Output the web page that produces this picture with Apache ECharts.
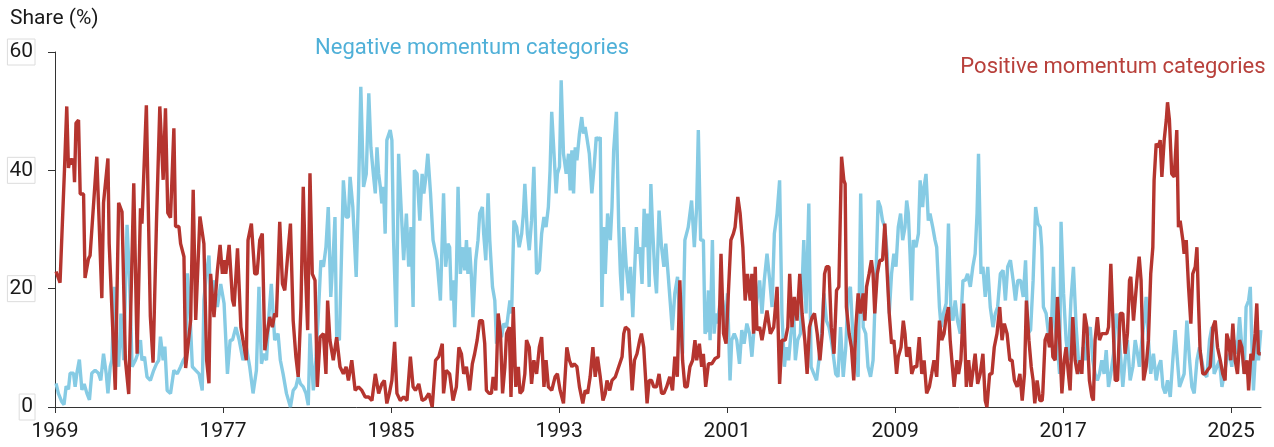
<!DOCTYPE html>
<html>
<head>
<meta charset="utf-8">
<script src="https://cdn.jsdelivr.net/npm/echarts@6/dist/echarts.min.js"></script>
<style>
html,body{margin:0;padding:0;background:#fff;}
#chart{width:1274px;height:447px;}
</style>
</head>
<body>
<div id="chart"></div>
<script>
// Tick years shown on the x axis
const xTickYears = [1969, 1977, 1985, 1993, 2001, 2009, 2017, 2025];
const yTicks = [0, 20, 40, 60];
const yAxisTitle = 'Share (%)';
const negLabel = 'Negative momentum categories';
const posLabel = 'Positive momentum categories';

// Share of negative momentum categories, [year, %]
const negativeShare = [
[1969.05,4],[1969.16,2.3],[1969.32,0.9],[1969.43,0.4],[1969.53,3.5],[1969.64,3],[1969.72,5.7],[1969.88,5.7],[1969.96,3.4],[1970.04,5.7],[1970.16,8],[1970.28,2.9],[1970.39,3.9],[1970.52,2.3],[1970.64,1.2],[1970.75,5.7],[1970.91,6.2],[1971.07,5.7],[1971.18,4.5],[1971.31,9],[1971.44,5.6],[1971.52,2.3],[1971.63,6.8],[1971.71,7.9],[1971.82,20.3],[1971.92,11.3],[1972.03,6.8],[1972.14,15.8],[1972.27,7.9],[1972.43,30.8],[1972.55,21.5],[1972.67,6.8],[1972.83,7.9],[1972.94,9],[1973.07,11.3],[1973.14,7.9],[1973.26,8.5],[1973.38,5.1],[1973.54,4.5],[1973.7,6.2],[1973.83,7.3],[1973.94,7.9],[1974.02,11.9],[1974.15,7.9],[1974.23,10.2],[1974.34,2.8],[1974.5,2.3],[1974.66,6.2],[1974.82,5.6],[1974.98,6.8],[1975.11,7.9],[1975.22,8.5],[1975.3,22.6],[1975.41,17],[1975.54,6.8],[1975.7,6.2],[1975.86,5.6],[1976.01,2.8],[1976.09,18.1],[1976.21,22.5],[1976.33,25.6],[1976.41,18],[1976.57,21.4],[1976.73,16.9],[1976.89,20.8],[1977.05,17.5],[1977.21,5.6],[1977.34,11.3],[1977.45,11.3],[1977.61,13.5],[1977.77,11.3],[1977.85,11.3],
[1977.95,7.9],[1978.11,10.1],[1978.27,6.8],[1978.43,2.3],[1978.59,6.2],[1978.71,20.3],[1978.83,7.3],[1978.94,9],[1979.07,7.9],[1979.19,15.8],[1979.3,20.8],[1979.46,11.3],[1979.62,12.4],[1979.73,7.9],[1979.86,5.6],[1980.02,2.3],[1980.21,0],[1980.34,2.8],[1980.47,3.4],[1980.58,5.1],[1980.69,3.9],[1980.82,3.4],[1980.95,2.3],[1981.06,0.3],[1981.14,12.4],[1981.3,2.8],[1981.42,7.9],[1981.54,15.8],[1981.66,24.8],[1981.78,23.7],[1981.9,27],[1982.01,33.8],[1982.13,18.6],[1982.25,25.9],[1982.33,32.1],[1982.41,11.8],[1982.54,11.3],[1982.65,27],[1982.73,38.3],[1982.86,32.1],[1982.97,32.1],[1983.05,38.9],[1983.18,33.8],[1983.34,22],[1983.45,36.1],[1983.56,54.1],[1983.69,37.2],[1983.82,39.4],[1983.94,53],[1984.04,43.9],[1984.17,38.9],[1984.25,36.1],[1984.33,43.9],[1984.41,39.4],[1984.49,37.2],[1984.56,34.4],[1984.64,37.2],[1984.72,29.3],[1984.8,45.1],[1984.96,46.8],[1985.04,45.1],[1985.12,28.2],[1985.25,13.5],[1985.36,42.8],[1985.47,34.4],[1985.6,24.8],[1985.73,32.7],[1985.84,23.7],[1985.95,30.4],[1986.05,16.9],[1986.11,40],[1986.24,39.4],[1986.37,31.5],[1986.48,39.4],[1986.56,36.1],[1986.64,38.3],[1986.75,42.8],[1986.88,36.1],[1987.0,28.2],[1987.19,24.8],[1987.35,18],
[1987.5,36.1],[1987.6,23.7],[1987.71,27.6],[1987.79,27],[1987.87,18],[1987.95,21.4],[1988.03,13.5],[1988.11,22.5],[1988.19,37.2],[1988.3,22.5],[1988.43,27],[1988.51,23.1],[1988.59,28.2],[1988.66,22.5],[1988.74,27],[1988.82,22.5],[1988.9,15.2],[1989.03,24.8],[1989.14,28.2],[1989.22,32.7],[1989.35,33.8],[1989.41,29.3],[1989.51,24.8],[1989.62,36.1],[1989.7,28.2],[1989.83,20.3],[1989.94,18],[1990.02,10.7],[1990.15,14.6],[1990.26,11.8],[1990.37,14.1],[1990.5,13.5],[1990.66,18],[1990.74,15.8],[1990.85,31.5],[1990.98,30.4],[1991.1,27],[1991.22,29.3],[1991.3,32.7],[1991.37,37.7],[1991.49,29.3],[1991.58,26.5],[1991.69,31.5],[1991.8,40.6],[1991.93,22.5],[1992.06,23.1],[1992.17,29.3],[1992.28,32.1],[1992.38,30.4],[1992.49,33.8],[1992.57,40],[1992.65,49.9],[1992.76,42.8],[1992.86,36.1],[1992.92,39.4],[1993.02,40.6],[1993.1,55.2],[1993.21,42.8],[1993.34,39.4],[1993.45,42.8],[1993.53,36.6],[1993.61,43.4],[1993.69,36.1],[1993.77,43.9],[1993.85,41.7],[1993.97,46.2],[1994.08,49],[1994.16,46.2],[1994.24,47.3],[1994.32,45.6],[1994.44,42.8],[1994.56,36.1],[1994.67,40.6],[1994.77,45.6],[1994.88,45.1],[1994.96,45.6],[1995.04,16.9],[1995.12,30.4],[1995.2,22.5],[1995.31,32.7],[1995.44,28.2],[1995.52,33.8],[1995.6,43.4],[1995.73,49.9],[1995.84,30.4],[1995.92,22.5],[1996.0,18],[1996.08,30.4],[1996.2,23.7],[1996.32,19.2],[1996.4,23.7],[1996.51,15.2],[1996.59,22.5],[1996.68,30.4],[1996.76,25.9],[1996.84,27],[1996.95,20.8],
[1997.05,33.5],[1997.13,27],[1997.19,32.7],[1997.29,20.3],[1997.37,37.7],[1997.45,30.4],[1997.56,22.5],[1997.64,19.2],[1997.76,33.2],[1997.88,27],[1997.99,23.7],[1998.08,27.6],[1998.19,22.5],[1998.31,16.9],[1998.39,13],[1998.51,19.2],[1998.64,22],[1998.75,14.1],[1998.88,9],[1998.99,28.2],[1999.15,30.4],[1999.31,34.9],[1999.44,27],[1999.55,33.8],[1999.63,46.8],[1999.74,28.2],[1999.87,28.2],[1999.95,12.4],[2000.03,13],[2000.11,19.7],[2000.19,11.3],[2000.3,28.2],[2000.38,12.4],[2000.47,15.8],[2000.55,14.1],[2000.67,18],[2000.79,18],[2000.91,13.5],[2001.02,19.2],[2001.14,4.5],[2001.22,11.3],[2001.34,12.4],[2001.46,11.3],[2001.59,7.3],[2001.7,13],[2001.81,10.7],[2001.94,14.1],[2002.07,12.4],[2002.18,8.5],[2002.29,13.5],[2002.42,18],[2002.55,21.4],[2002.66,15.8],[2002.77,21.4],[2002.9,25.9],[2003.03,21.4],[2003.14,16.9],[2003.25,29.3],[2003.38,32.7],[2003.5,38.3],[2003.61,15.8],[2003.73,6.8],[2003.82,10.1],[2003.93,7.9],[2004.04,12.4],[2004.17,15.8],[2004.25,7.9],[2004.36,11.3],[2004.49,12.4],[2004.65,28.2],[2004.76,15.8],[2004.89,34.4],[2005.0,6.8],[2005.13,5.6],[2005.26,4.5],[2005.37,7.9],[2005.48,11.3],[2005.61,19.2],[2005.73,14.6],[2005.85,13.5],[2005.96,11.3],[2006.05,9],[2006.17,5.6],[2006.28,5.1],[2006.4,13.5],[2006.53,5.1],
[2006.65,10.1],[2006.76,19.2],[2006.87,20.3],[2007.0,11.3],[2007.13,6.8],[2007.24,5.1],[2007.36,36.1],[2007.48,13.5],[2007.6,12.4],[2007.71,6.8],[2007.83,5.1],[2007.95,7.9],[2008.08,21.4],[2008.19,34.9],[2008.3,33.8],[2008.4,31.5],[2008.51,30.4],[2008.62,25.9],[2008.72,15.8],[2008.83,22.5],[2008.94,25.9],[2009.04,23.7],[2009.15,30.4],[2009.26,32.7],[2009.36,28.2],[2009.47,30.4],[2009.55,34.9],[2009.63,32.7],[2009.71,25.9],[2009.79,18],[2009.87,28.2],[2009.99,27],[2010.11,29.3],[2010.19,38.3],[2010.31,33.8],[2010.38,37.2],[2010.47,39.4],[2010.58,31.5],[2010.66,32.7],[2010.79,30.4],[2010.9,28.2],[2010.98,27],[2011.11,16.9],[2011.19,13.5],[2011.3,15.8],[2011.43,17.5],[2011.54,31],[2011.65,16.9],[2011.75,14.6],[2011.86,18],[2011.97,14.6],[2012.1,12.4],[2012.23,21.4],[2012.34,21.4],[2012.45,22.5],[2012.58,20.3],[2012.7,23.7],[2012.81,25.9],[2012.9,32.7],[2012.97,42.8],[2013.09,22.5],[2013.18,23.7],[2013.29,18.6],[2013.41,23.7],[2013.53,16.9],[2013.66,13.5],[2013.77,15.8],[2013.88,16.9],[2014.01,22.5],[2014.14,23.1],[2014.25,18],[2014.36,23.7],[2014.49,24.8],[2014.62,21.4],[2014.73,18],[2014.84,21.4],[2014.97,21.4],[2015.1,18.6],[2015.21,24.8],[2015.32,12.4],[2015.45,13],[2015.57,21.4],[2015.69,33.8],[2015.8,31],
[2015.91,30.4],[2015.98,27],[2016.06,16.9],[2016.19,15.8],[2016.3,12.4],[2016.41,10.1],[2016.54,23.7],[2016.62,13.5],[2016.73,10.1],[2016.83,5.6],[2016.9,31.3],[2017.02,19.2],[2017.14,11.3],[2017.25,7.9],[2017.37,18],[2017.49,23.7],[2017.62,13.5],[2017.73,7.9],[2017.84,5.6],[2017.94,10.1],[2018.05,7.9],[2018.16,12.4],[2018.29,13.5],[2018.41,7.9],[2018.52,5.6],[2018.63,4.5],[2018.73,5.6],[2018.84,7.9],[2018.95,5.6],[2019.05,9.6],[2019.16,3.4],[2019.27,5.6],[2019.4,9],[2019.52,15.8],[2019.64,13.5],[2019.75,7.9],[2019.84,3.4],[2019.95,7.9],[2020.06,11.3],[2020.19,4.5],[2020.32,6.8],[2020.43,11.3],[2020.54,9],[2020.63,6.8],[2020.75,11.3],[2020.86,14.6],[2020.95,18.6],[2021.06,11.3],[2021.17,5.6],[2021.3,9],[2021.43,4.5],[2021.54,6.8],[2021.65,7.9],[2021.75,3.4],[2021.86,2.3],[2021.97,4.5],[2022.1,1.7],[2022.22,7.9],[2022.33,13],[2022.44,7.9],[2022.54,3.4],[2022.65,4.5],[2022.76,5.6],[2022.89,14.6],[2023.02,7.9],[2023.13,3.4],[2023.24,2.3],[2023.37,7.9],[2023.49,10.1],[2023.6,7.9],[2023.71,5.6],[2023.84,5.1],[2023.97,11.3],[2024.08,13.5],[2024.19,5.6],[2024.32,6.8],[2024.44,7.9],[2024.56,3.4],[2024.67,5.6],[2024.79,7.9],[2024.92,9],[2025.03,6.8],[2025.14,11.3],[2025.27,9],[2025.4,15.2],[2025.51,10.1],[2025.62,5.6],[2025.71,16.9],[2025.83,18],[2025.91,20.3],[2025.98,11.3],[2026.06,2.8],[2026.19,11.3],[2026.3,7.9],[2026.41,13]
];

// Share of positive momentum categories, [year, %]
const positiveShare = [
[1969.05,22.9],[1969.24,21],[1969.45,40],[1969.56,50.8],[1969.64,40.4],[1969.72,42],[1969.8,41],[1969.88,42],[1969.93,38],[1970.0,48],[1970.12,48.5],[1970.2,36],[1970.36,36],[1970.43,21.8],[1970.59,25],[1970.67,25.6],[1970.99,42.3],[1971.23,18.4],[1971.31,34.5],[1971.52,42],[1971.58,27.6],[1971.87,2.9],[1972.03,34.5],[1972.19,33],[1972.35,8],[1972.51,2.2],[1972.75,37.8],[1972.91,9],[1973.07,33.6],[1973.14,31],[1973.35,51],[1973.54,15.3],[1973.67,7.5],[1973.83,31],[1973.99,50.8],[1974.15,38.4],[1974.26,50.5],[1974.37,32.8],[1974.5,32],[1974.66,47.1],[1974.74,30.5],[1974.9,30.5],[1974.98,27.6],[1975.14,25.4],[1975.22,6.6],[1975.46,14.7],[1975.58,36.7],[1975.7,14.7],[1975.9,32.2],[1976.09,27.6],[1976.22,7.9],[1976.33,4],[1976.41,22.5],[1976.57,15.2],[1976.73,23],[1976.86,27.4],[1976.97,22.5],[1977.05,24.8],[1977.13,22.5],[1977.29,27.4],[1977.45,18.1],[1977.53,17],[1977.69,26.8],[1977.85,13.5],
[1977.95,11.3],[1978.11,7.9],[1978.19,28.2],[1978.35,31],[1978.51,22.5],[1978.62,22.5],[1978.75,28.2],[1978.87,29.3],[1978.99,9.6],[1979.1,12.4],[1979.22,15.2],[1979.35,13.5],[1979.46,15.8],[1979.54,15.2],[1979.7,31.3],[1979.83,20.8],[1979.94,19.7],[1980.1,26.5],[1980.21,31],[1980.34,14.6],[1980.47,8.5],[1980.58,5.1],[1980.71,16.9],[1980.82,37.2],[1980.93,22.5],[1981.03,13],[1981.14,39.5],[1981.25,22.5],[1981.38,21.4],[1981.49,3.4],[1981.62,11.8],[1981.78,12.4],[1981.9,5.6],[1981.98,18],[1982.09,11.3],[1982.25,7.9],[1982.41,11.8],[1982.57,6.8],[1982.73,5.6],[1982.86,6.8],[1982.97,4.5],[1983.13,7.9],[1983.29,2.8],[1983.45,3.4],[1983.61,2.8],[1983.77,1.7],[1983.93,1.7],[1984.09,1.1],[1984.25,5.6],[1984.41,2.3],[1984.56,3.9],[1984.68,4.5],[1984.8,0.6],[1984.92,2.3],[1985.04,4.5],[1985.17,11],[1985.28,2.3],[1985.44,1.1],[1985.6,1.7],[1985.76,1.1],[1985.92,8.5],[1986.05,3.4],[1986.16,2.8],[1986.32,3.9],[1986.48,1.1],[1986.64,1.4],[1986.8,2.3],[1986.96,0],[1987.12,7.9],[1987.27,8.5],
[1987.44,10.7],[1987.5,2.3],[1987.63,6.2],[1987.79,5.6],[1987.95,1.1],[1988.11,3.4],[1988.23,10.1],[1988.35,9],[1988.46,5.6],[1988.59,6.8],[1988.74,2.8],[1988.87,7.3],[1988.98,9],[1989.1,11.3],[1989.22,14.6],[1989.35,14.6],[1989.46,10.7],[1989.54,2.8],[1989.67,2.3],[1989.78,2.3],[1989.86,5.1],[1989.99,2.8],[1990.1,15.8],[1990.21,12.4],[1990.31,2.3],[1990.42,6.8],[1990.5,12.4],[1990.63,13.5],[1990.71,1.7],[1990.82,16.9],[1990.94,3.4],[1991.06,6.8],[1991.14,2.3],[1991.26,2.8],[1991.37,5.6],[1991.45,11.3],[1991.58,10.1],[1991.69,3.9],[1991.8,7.9],[1991.93,5.6],[1992.06,10.1],[1992.17,11.8],[1992.28,3.4],[1992.38,7.9],[1992.49,3.4],[1992.65,2.8],[1992.81,5.1],[1992.92,5.6],[1993.05,2.8],[1993.21,0.6],[1993.37,10.1],[1993.49,7.9],[1993.61,6.8],[1993.72,7.3],[1993.85,6.8],[1993.97,3.4],[1994.13,0.6],[1994.24,2.8],[1994.36,2.3],[1994.48,5.1],[1994.61,10.1],[1994.72,5.1],[1994.83,8.5],[1994.96,5.1],[1995.09,1.1],[1995.2,2.3],[1995.28,4.5],[1995.41,2.8],[1995.52,4.5],[1995.68,5.1],[1995.84,6.8],[1996.0,8.5],[1996.08,12.4],[1996.16,13.5],[1996.32,13],[1996.48,2.8],[1996.59,7.9],[1996.71,9],[1996.84,11.3],[1996.92,12.4],[1997.03,10.1],[1997.19,0.6],
[1997.29,4.5],[1997.4,4.5],[1997.51,3.4],[1997.64,3.4],[1997.76,5.6],[1997.88,2.3],[1997.99,2.3],[1998.12,3.4],[1998.27,5.1],[1998.4,2.8],[1998.51,8.5],[1998.63,5.1],[1998.75,21.4],[1998.88,7.9],[1998.99,3.4],[1999.1,3.4],[1999.23,6.8],[1999.36,7.9],[1999.47,11.3],[1999.55,7.9],[1999.68,10.7],[1999.79,6.8],[1999.87,9],[1999.98,3.4],[2000.11,7.3],[2000.27,7.3],[2000.43,8.2],[2000.59,8.5],[2000.71,25.9],[2000.83,12.4],[2000.95,10.7],[2001.06,19.2],[2001.18,28.2],[2001.3,29.3],[2001.38,30.4],[2001.51,35.5],[2001.62,32.7],[2001.75,27],[2001.86,18],[2001.97,22.5],[2002.1,18],[2002.18,22.5],[2002.26,12.4],[2002.34,23.7],[2002.42,13],[2002.55,13.5],[2002.66,11.3],[2002.77,13.5],[2002.9,16.3],[2003.06,12.4],[2003.22,13.5],[2003.38,20.3],[2003.5,3.9],[2003.61,11.3],[2003.77,11.3],[2003.89,13.5],[2003.98,22.5],[2004.09,13.5],[2004.2,18.6],[2004.33,14.6],[2004.46,22.5],[2004.57,15.8],[2004.7,11.3],[2004.81,5.6],[2004.92,13.5],[2005.05,15.2],[2005.16,15.8],[2005.29,12.4],[2005.42,7.9],[2005.53,12.4],[2005.64,22.5],[2005.73,23.7],[2005.85,23.7],[2005.96,13.5],[2006.09,9],[2006.21,19.7],[2006.32,20.3],[2006.45,42.3],[2006.56,38.3],[2006.62,37.7],
[2006.68,16.9],[2006.81,12.4],[2006.92,10.1],[2007.03,4.5],[2007.13,13.5],[2007.24,19.2],[2007.35,15.8],[2007.48,19.2],[2007.56,14.6],[2007.64,20.3],[2007.76,22.5],[2007.87,24.8],[2007.95,22.5],[2008.03,15.8],[2008.15,22.5],[2008.27,24.8],[2008.4,24.8],[2008.51,31],[2008.59,24.8],[2008.72,15.8],[2008.83,10.7],[2008.94,11.3],[2009.07,5.6],[2009.15,8.5],[2009.28,10.1],[2009.39,14.6],[2009.47,12.4],[2009.55,8.5],[2009.68,10.1],[2009.79,5.6],[2009.9,6.8],[2010.03,6.8],[2010.15,11.8],[2010.27,5.6],[2010.38,7.9],[2010.5,2.3],[2010.63,3.4],[2010.74,5.6],[2010.85,7.9],[2010.98,5.1],[2011.11,14.6],[2011.22,11.3],[2011.33,12.4],[2011.43,15.2],[2011.54,16.9],[2011.62,11.3],[2011.7,7.9],[2011.81,3.4],[2011.94,7.9],[2012.02,5.6],[2012.13,7.9],[2012.26,17.5],[2012.39,3.4],[2012.5,7.9],[2012.61,3.4],[2012.7,3.4],[2012.81,9],[2012.93,3.9],[2013.05,5.6],[2013.18,9],[2013.29,1.1],[2013.37,0],[2013.5,5.6],[2013.61,5.6],[2013.72,10.1],[2013.85,12.4],[2013.98,16.9],[2014.09,11.3],[2014.2,14.1],[2014.33,12.4],[2014.46,7.9],[2014.57,7.9],[2014.68,4.5],[2014.81,3.4],[2014.94,5.6],[2015.05,1.1],[2015.16,5.6],[2015.25,18],[2015.37,11.3],[2015.48,6.8],[2015.57,4.5],[2015.65,0.6],[2015.76,4.5],[2015.89,1.1],[2016.0,1.1],
[2016.03,2.3],[2016.14,11.3],[2016.25,12.4],[2016.35,10.1],[2016.41,15.2],[2016.51,8.5],[2016.62,7.9],[2016.73,18.6],[2016.83,11.3],[2016.94,2.3],[2017.05,7.9],[2017.14,10.1],[2017.25,5.6],[2017.33,2.8],[2017.46,15.2],[2017.57,7.9],[2017.68,5.6],[2017.81,7.9],[2017.89,5.6],[2018.02,15.8],[2018.13,13.5],[2018.25,4.5],[2018.37,1.7],[2018.44,1.1],[2018.52,11.3],[2018.63,15.2],[2018.73,11.3],[2018.84,12.4],[2018.95,12.4],[2019.08,12.4],[2019.16,13.5],[2019.27,24.2],[2019.37,14.6],[2019.48,4.5],[2019.59,4.5],[2019.71,15.8],[2019.84,15.8],[2019.95,9],[2020.06,12.4],[2020.16,21.4],[2020.22,22],[2020.35,14.6],[2020.43,18],[2020.51,21.4],[2020.62,25.4],[2020.71,21.4],[2020.83,4.5],[2020.95,6.8],[2021.06,11.3],[2021.17,22.5],[2021.27,27],[2021.33,38.3],[2021.43,44.5],[2021.54,43.9],[2021.62,45.1],[2021.7,38.9],[2021.81,45.1],[2021.91,48.5],[2021.97,51.5],[2022.06,48.5],[2022.17,39.4],[2022.29,38.9],[2022.41,46.8],[2022.49,30.4],[2022.57,31.5],[2022.7,28.2],[2022.76,25.9],[2022.86,28.2],[2022.97,20.3],[2023.08,14.1],[2023.17,22.5],[2023.29,23.7],[2023.37,27],[2023.44,18],[2023.52,9.6],[2023.65,5.6],[2023.76,5.6],[2023.87,6.2],[2024.0,6.8],[2024.13,13.5],[2024.24,14.6],[2024.35,10.1],[2024.48,7.9],[2024.6,5.6],[2024.71,4.5],[2024.79,12.4],[2024.87,11.3],[2024.98,7.9],[2025.08,14.1],[2025.19,7.9],[2025.3,5.6],[2025.4,11.3],[2025.51,10.1],[2025.62,5.6],[2025.75,7.9],[2025.83,2.8],[2025.94,9],[2026.03,7.9],[2026.14,12.4],[2026.22,17.5],[2026.3,9],[2026.41,9]
];

const FONT = 'Roboto, "Noto Sans", sans-serif';
const chart = echarts.init(document.getElementById('chart'), null, {renderer: 'canvas'});
chart.setOption({
  animation: false,
  backgroundColor: '#ffffff',
  grid: {left: 55, right: 13, top: 52, bottom: 40, containLabel: false},
  xAxis: {
    type: 'value',
    min: 1969,
    max: 2026.42,
    splitLine: {show: false},
    axisLine: {onZero: false, lineStyle: {color: '#333', width: 1}},
    axisTick: {show: true, length: 6, lineStyle: {color: '#333'}, customValues: xTickYears},
    axisLabel: {customValues: xTickYears, color: '#1a1a1a', fontSize: 21, fontFamily: FONT, margin: 14,
      formatter: v => String(Math.round(v))}
  },
  yAxis: {
    type: 'value',
    min: 0,
    max: 60,
    interval: 20,
    splitLine: {show: false},
    axisLine: {show: true, lineStyle: {color: '#333', width: 1}},
    axisTick: {show: true, length: 7, lineStyle: {color: '#333'}, customValues: yTicks},
    axisLabel: {customValues: yTicks, color: '#1a1a1a', fontSize: 21, fontFamily: FONT, margin: 20,
      borderColor: '#dcdcdc', borderWidth: 1, padding: [3, 2, 2, 2]}
  },
  graphic: [
    {type: 'text', left: 10, top: 8, style: {text: yAxisTitle, font: '21px ' + FONT, fill: '#1a1a1a'}},
    {type: 'text', x: 472, y: 48, style: {text: negLabel, font: '22px ' + FONT, fill: '#4fb0d8', align: 'center', verticalAlign: 'middle'}},
    {type: 'text', x: 1113, y: 67, style: {text: posLabel, font: '22px ' + FONT, fill: '#b8403b', align: 'center', verticalAlign: 'middle'}}
  ],
  series: [
    {name: 'Negative', type: 'line', data: negativeShare, showSymbol: false, symbol: 'none',
      lineStyle: {color: '#86cbe4', width: 3.4}, z: 2},
    {name: 'Positive', type: 'line', data: positiveShare, showSymbol: false, symbol: 'none',
      lineStyle: {color: '#b5352f', width: 3.4}, z: 3}
  ]
});
</script>
</body>
</html>
